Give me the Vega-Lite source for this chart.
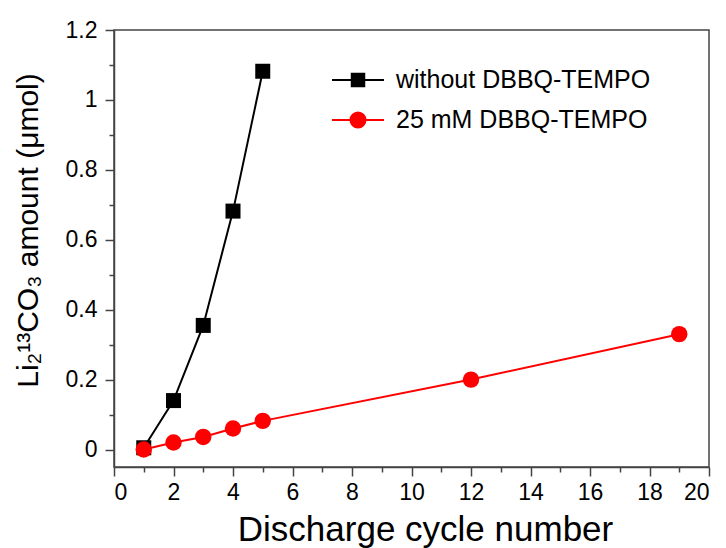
{
  "$schema": "https://vega.github.io/schema/vega-lite/v6.json",
  "width": 595,
  "height": 437,
  "autosize": {"type": "none"},
  "padding": {"left": 114, "top": 30, "right": 17, "bottom": 81},
  "background": "white",
  "config": {
    "font": "Liberation Sans",
    "view": {"stroke": "#444444", "strokeWidth": 1.5},
    "axis": {"domainColor": "#444444", "tickColor": "#444444", "domainWidth": 1.5, "tickWidth": 1.5, "grid": false, "labelFont": "Liberation Sans", "titleFont": "Liberation Sans", "labelColor": "black", "titleColor": "black", "titleFontWeight": "normal"}
  },
  "data": {
    "values": [
      {"cycle": 1, "amount": 0.005, "series": "without DBBQ-TEMPO"},
      {"cycle": 2, "amount": 0.14, "series": "without DBBQ-TEMPO"},
      {"cycle": 3, "amount": 0.355, "series": "without DBBQ-TEMPO"},
      {"cycle": 4, "amount": 0.682, "series": "without DBBQ-TEMPO"},
      {"cycle": 5, "amount": 1.082, "series": "without DBBQ-TEMPO"},
      {"cycle": 1, "amount": 0.0, "series": "25 mM DBBQ-TEMPO"},
      {"cycle": 2, "amount": 0.02, "series": "25 mM DBBQ-TEMPO"},
      {"cycle": 3, "amount": 0.036, "series": "25 mM DBBQ-TEMPO"},
      {"cycle": 4, "amount": 0.06, "series": "25 mM DBBQ-TEMPO"},
      {"cycle": 5, "amount": 0.082, "series": "25 mM DBBQ-TEMPO"},
      {"cycle": 12, "amount": 0.2, "series": "25 mM DBBQ-TEMPO"},
      {"cycle": 19, "amount": 0.33, "series": "25 mM DBBQ-TEMPO"}
    ]
  },
  "resolve": {"axis": {"x": "independent", "y": "independent"}},
  "layer": [
    {
      "transform": [{"filter": "datum.series === 'without DBBQ-TEMPO'"}],
      "mark": {"type": "line", "strokeWidth": 2, "color": "black"},
      "encoding": {
        "x": {"field": "cycle", "type": "quantitative",
          "scale": {"domain": [0, 20], "nice": false, "zero": false},
          "axis": {"orient": "bottom", "values": [0, 2, 4, 6, 8, 10, 12, 14, 16, 18, 20], "tickSize": 9, "labelFontSize": 23, "labelPadding": 5, "title": "Discharge cycle number", "titleFontSize": 35, "titleX": 311, "titlePadding": 8}},
        "y": {"field": "amount", "type": "quantitative",
          "scale": {"domain": [-0.05, 1.2], "nice": false, "zero": false},
          "axis": {"orient": "left", "values": [0, 0.2, 0.4, 0.6, 0.8, 1, 1.2], "format": "~g", "tickSize": 9, "labelFontSize": 23, "labelPadding": 8, "title": "Li₂¹³CO₃ amount (μmol)", "titleFontSize": 30, "titleY": 200, "titlePadding": 22}}
      }
    },
    {
      "transform": [{"filter": "datum.series === '25 mM DBBQ-TEMPO'"}],
      "mark": {"type": "line", "strokeWidth": 2, "color": "red"},
      "encoding": {
        "x": {"field": "cycle", "type": "quantitative",
          "axis": {"orient": "bottom", "values": [1, 3, 5, 7, 9, 11, 13, 15, 17, 19], "tickSize": 5, "labels": false, "domain": false, "title": null}},
        "y": {"field": "amount", "type": "quantitative",
          "axis": {"orient": "left", "values": [0.1, 0.3, 0.5, 0.7, 0.9, 1.1], "tickSize": 5, "labels": false, "domain": false, "title": null}}
      }
    },
    {
      "transform": [{"filter": "datum.series === 'without DBBQ-TEMPO'"}],
      "mark": {"type": "point", "filled": true, "opacity": 1, "shape": "square", "size": 225, "color": "black"},
      "encoding": {
        "x": {"field": "cycle", "type": "quantitative", "axis": null},
        "y": {"field": "amount", "type": "quantitative", "axis": null}
      }
    },
    {
      "transform": [{"filter": "datum.series === '25 mM DBBQ-TEMPO'"}],
      "mark": {"type": "point", "filled": true, "opacity": 1, "shape": "circle", "size": 270, "color": "red"},
      "encoding": {
        "x": {"field": "cycle", "type": "quantitative", "axis": null},
        "y": {"field": "amount", "type": "quantitative", "axis": null}
      }
    },
    {
      "transform": [{"filter": "false"}],
      "mark": {"type": "point", "filled": true, "opacity": 1, "strokeWidth": 2},
      "encoding": {
        "x": {"field": "cycle", "type": "quantitative", "axis": null},
        "y": {"field": "amount", "type": "quantitative", "axis": null},
        "color": {"field": "series", "type": "nominal",
          "scale": {"domain": ["without DBBQ-TEMPO", "25 mM DBBQ-TEMPO"], "range": ["black", "red"]},
          "legend": {
            "title": null, "orient": "none", "legendX": 217, "legendY": 23,
            "labelFontSize": 25, "labelColor": "black", "labelFont": "Liberation Sans", "labelLimit": 0,
            "symbolSize": 2704, "symbolStrokeWidth": 2, "symbolOpacity": 1, "labelOffset": 11, "rowPadding": -13
          }},
        "stroke": {"field": "series", "type": "nominal",
          "scale": {"domain": ["without DBBQ-TEMPO", "25 mM DBBQ-TEMPO"], "range": ["black", "red"]},
          "legend": {
            "title": null, "orient": "none", "legendX": 217, "legendY": 23,
            "labelFontSize": 25, "labelColor": "black", "labelFont": "Liberation Sans", "labelLimit": 0,
            "symbolSize": 2704, "symbolStrokeWidth": 2, "symbolOpacity": 1, "labelOffset": 11, "rowPadding": -13
          }},
        "shape": {"field": "series", "type": "nominal",
          "scale": {"domain": ["without DBBQ-TEMPO", "25 mM DBBQ-TEMPO"], "range": ["M-1,0L1,0M-0.24,-0.24L0.24,-0.24L0.24,0.24L-0.24,0.24Z", "M-1,0L1,0M-0.29,0A0.29,0.29,0,1,1,0.29,0A0.29,0.29,0,1,1,-0.29,0Z"]},
          "legend": {
            "title": null, "orient": "none", "legendX": 217, "legendY": 23,
            "labelFontSize": 25, "labelColor": "black", "labelFont": "Liberation Sans", "labelLimit": 0,
            "symbolSize": 2704, "symbolStrokeWidth": 2, "symbolOpacity": 1, "labelOffset": 11, "rowPadding": -13
          }}
      }
    }
  ]
}
